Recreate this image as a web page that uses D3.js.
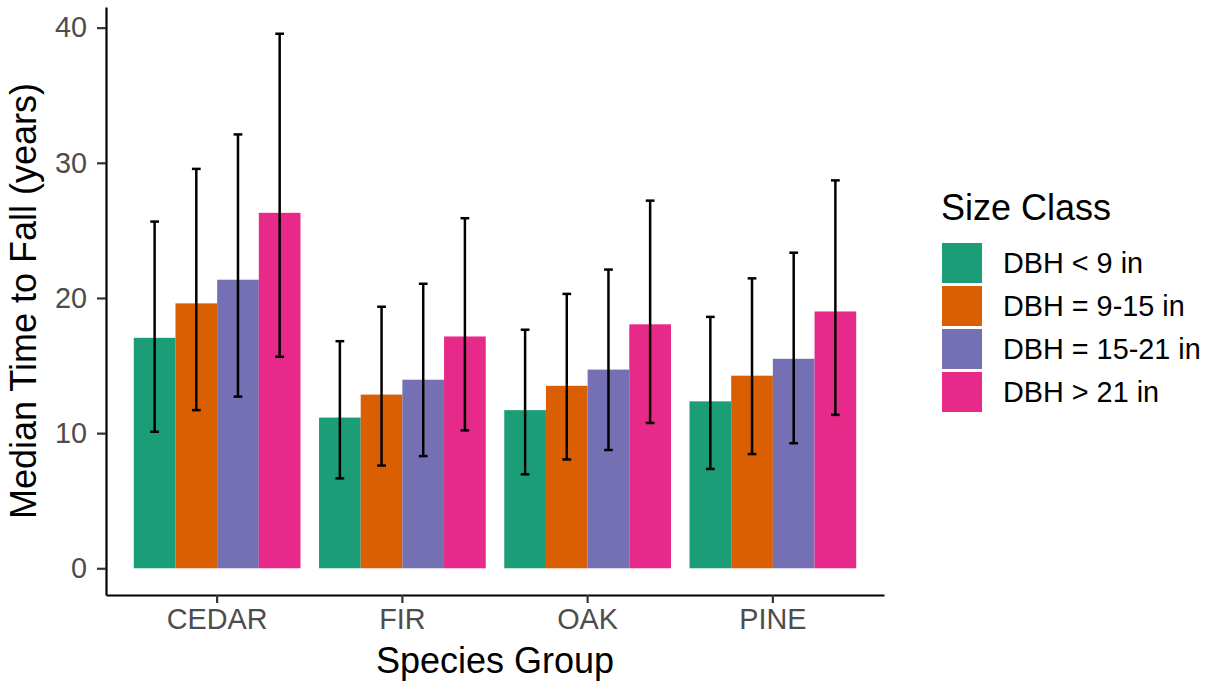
<!DOCTYPE html>
<html>
<head>
<meta charset="utf-8">
<script src="https://cdn.jsdelivr.net/npm/d3@7"></script>
<style>
  body { margin: 0; background: #fff; }
  svg text { font-family: "Liberation Sans", Arial, sans-serif; }
</style>
</head>
<body>
<div id="chart"></div>
<script>
// species groups on the x axis
const species = ['CEDAR', 'FIR', 'OAK', 'PINE'];
// size classes (fill)
const sizeClasses = ['DBH < 9 in', 'DBH = 9-15 in', 'DBH = 15-21 in', 'DBH > 21 in'];
const colors = ['#1B9E77', '#D95F02', '#7570B3', '#E7298A'];

// median time to fall, one array per size class (order follows species)
const median = [
  [17.05, 11.15, 11.7, 12.35],
  [19.6, 12.85, 13.5, 14.25],
  [21.35, 13.95, 14.7, 15.5],
  [26.3, 17.15, 18.05, 19.0]
];
// lower / upper ends of the error bars
const lower = [
  [10.1, 6.65, 6.95, 7.35],
  [11.7, 7.6, 8.05, 8.45],
  [12.7, 8.3, 8.75, 9.25],
  [15.65, 10.2, 10.75, 11.35]
];
const upper = [
  [25.65, 16.8, 17.65, 18.6],
  [29.55, 19.35, 20.3, 21.45],
  [32.1, 21.05, 22.1, 23.35],
  [39.55, 25.9, 27.2, 28.7]
];
const yTicks = [0, 10, 20, 30, 40];

const W = 1212, H = 686;
const plot = { left: 106, right: 884, top: 7, bottom: 595 };

const svg = d3.select('#chart').append('svg')
  .attr('width', W)
  .attr('height', H);

// flatten into rows for drawing
let rows = [];
sizeClasses.forEach((s, si) => {
  species.forEach((sp, gi) => {
    rows.push({ species: sp, size: s, si, value: median[si][gi], lo: lower[si][gi], hi: upper[si][gi] });
  });
});

// ggplot style 5% expansion on y
let yMax = d3.max(rows, d => d.hi);
let yScale = d3.scaleLinear()
  .domain([-0.05 * yMax, yMax * 1.05])
  .range([plot.bottom, plot.top]);

let xScale = d3.scaleBand()
  .domain(species)
  .range([plot.left, plot.right])
  .paddingInner(0.1)
  .paddingOuter(0.15);

let xInner = d3.scaleBand()
  .domain(sizeClasses)
  .range([0, xScale.bandwidth()]);

let colorScale = d3.scaleOrdinal().domain(sizeClasses).range(colors);

// bars
svg.append('g')
  .selectAll('rect')
  .data(rows)
  .enter()
  .append('rect')
  .attr('x', d => xScale(d.species) + xInner(d.size))
  .attr('y', d => yScale(d.value))
  .attr('width', xInner.bandwidth())
  .attr('height', d => yScale(0) - yScale(d.value))
  .attr('fill', d => colorScale(d.size));

// error bars
let capW = xInner.bandwidth() * 0.21;
let err = svg.append('g')
  .attr('stroke', '#000')
  .attr('stroke-width', 2.5);

rows.forEach(d => {
  let cx = xScale(d.species) + xInner(d.size) + xInner.bandwidth() / 2;
  err.append('line')
    .attr('x1', cx).attr('x2', cx)
    .attr('y1', yScale(d.lo)).attr('y2', yScale(d.hi));
  [d.lo, d.hi].forEach(v => {
    err.append('line')
      .attr('x1', cx - capW / 2).attr('x2', cx + capW / 2)
      .attr('y1', yScale(v)).attr('y2', yScale(v));
  });
});

// y axis
let yAxis = d3.axisLeft(yScale).tickValues(yTicks).tickSize(9).tickSizeOuter(0).tickPadding(10);
let gy = svg.append('g')
  .attr('transform', `translate(${plot.left}, 0)`)
  .call(yAxis);
gy.select('.domain').attr('stroke', '#000').attr('stroke-width', 2.2);
gy.selectAll('.tick line').attr('stroke', '#333').attr('stroke-width', 2.2);
gy.selectAll('.tick text')
  .attr('fill', '#4D4D4D')
  .style('font-size', '28.8px');

// x axis
let xAxis = d3.axisBottom(xScale).tickSize(8).tickSizeOuter(0).tickPadding(6);
let gx = svg.append('g')
  .attr('transform', `translate(0, ${plot.bottom})`)
  .call(xAxis);
gx.select('.domain').attr('stroke', '#000').attr('stroke-width', 2.2);
gx.selectAll('.tick line').attr('stroke', '#333').attr('stroke-width', 2.2);
gx.selectAll('.tick text')
  .attr('fill', '#4D4D4D')
  .style('font-size', '28.8px');

// axis titles
svg.append('text')
  .attr('x', (plot.left + plot.right) / 2)
  .attr('y', 673)
  .attr('text-anchor', 'middle')
  .style('font-size', '36px')
  .attr('fill', '#000')
  .text('Species Group');

svg.append('text')
  .attr('transform', `translate(36, ${(plot.top + plot.bottom) / 2}) rotate(-90)`)
  .attr('text-anchor', 'middle')
  .style('font-size', '36px')
  .attr('fill', '#000')
  .text('Median Time to Fall (years)');

// legend
let legend = svg.append('g').attr('transform', 'translate(941, 0)');
legend.append('text')
  .attr('x', 0)
  .attr('y', 220)
  .style('font-size', '36px')
  .attr('fill', '#000')
  .text('Size Class');

let items = legend.selectAll('.item')
  .data(sizeClasses)
  .enter()
  .append('g')
  .attr('class', 'item')
  .attr('transform', (d, i) => `translate(0, ${243 + i * 43})`);

items.append('rect')
  .attr('x', 1)
  .attr('width', 40)
  .attr('height', 40)
  .attr('fill', d => colorScale(d));

items.append('text')
  .attr('x', 62)
  .attr('y', 20)
  .attr('dy', '0.35em')
  .style('font-size', '28.8px')
  .attr('fill', '#000')
  .text(d => d);
</script>
</body>
</html>
